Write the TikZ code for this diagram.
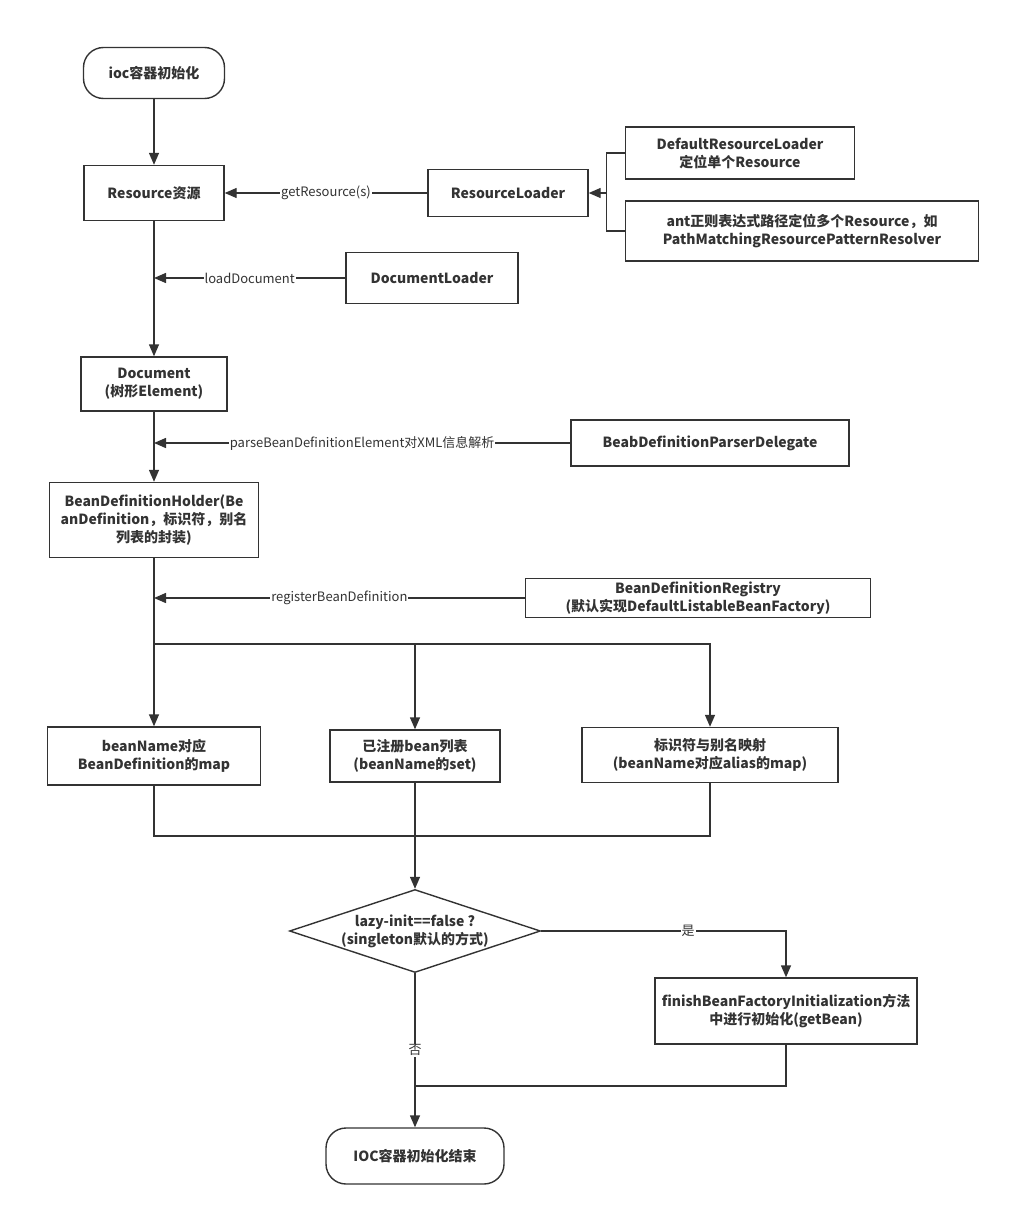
\documentclass[tikz,border=0pt]{standalone}
\usepackage{fontspec}
\newfontfamily\cjk{Noto Sans CJK SC}
\usetikzlibrary{shapes.geometric, arrows.meta, calc}

\begin{document}
\begin{tikzpicture}[x=1pt, y=1pt, >={Triangle[length=12pt, width=10pt]},
		color=black!80, line width=1.4pt,
		box/.style={draw, align=center, inner sep=2pt,
				font=\cjk\bfseries\fontsize{14}{18}\selectfont},
		term/.style={box, rounded corners=20pt},
		dec/.style={box, diamond, aspect=3, inner sep=0pt},
		lbl/.style={fill=white, inner sep=1pt, font=\cjk\fontsize{13}{15}\selectfont}]

		\useasboundingbox (0,0) rectangle (1011,-1215);

		% Main column
		\node[term, minimum width=141pt, minimum height=51pt] (Start) at (154,-73) {ioc容器初始化};
		\node[box, minimum width=140pt, minimum height=55pt] (Resource) at (154,-193) {Resource资源};
		\node[box, minimum width=146pt, minimum height=54pt] (Document) at (154,-384) {Document\\(树形Element)};
		\node[box, minimum width=209pt, minimum height=75pt] (Holder) at (154,-520) {BeanDefinitionHolder(Be\\anDefinition，标识符，别名\\列表的封装)};

		% Helpers on the right
		\node[box, minimum width=160pt, minimum height=47pt] (RLoader) at (508,-193) {ResourceLoader};
		\node[box, minimum width=229pt, minimum height=52pt] (DefaultRL) at (740,-153) {DefaultResourceLoader\\定位单个Resource};
		\node[box, minimum width=353pt, minimum height=60pt] (PatternRL) at (802,-231) {ant正则表达式路径定位多个Resource，如\\PathMatchingResourcePatternResolver};
		\node[box, minimum width=172pt, minimum height=51pt] (DocLoader) at (432,-278) {DocumentLoader};
		\node[box, minimum width=278pt, minimum height=46pt] (Delegate) at (710,-443) {BeabDefinitionParserDelegate};
		\node[box, minimum width=345pt, minimum height=39pt] (Registry) at (698,-598) {BeanDefinitionRegistry\\(默认实现DefaultListableBeanFactory)};

		% Registry row
		\node[box, minimum width=213pt, minimum height=58pt] (NameMap) at (154,-756) {beanName对应\\BeanDefinition的map};
		\node[box, minimum width=170pt, minimum height=52pt] (NameSet) at (415,-756) {已注册bean列表\\(beanName的set)};
		\node[box, minimum width=256pt, minimum height=55pt] (AliasMap) at (710,-755) {标识符与别名映射\\(beanName对应alias的map)};

		% Decision and end
		\node[dec, minimum width=251pt, minimum height=83pt] (Lazy) at (415,-931) {lazy-init==false ?\\(singleton默认的方式)};
		\node[box, minimum width=262pt, minimum height=66pt] (Finish) at (786,-1011) {finishBeanFactoryInitialization方法\\中进行初始化(getBean)};
		\node[term, minimum width=178pt, minimum height=56pt] (End) at (415,-1156) {IOC容器初始化结束};

		\coordinate (RLjoint) at ($(RLoader.east)+(18,0)$);
		\coordinate (Split) at (154,-644);
		\coordinate (Join) at (415,-836);
		\coordinate (Merge) at (415,-1086);

		% --- Connections ---

		% Main flow
		\draw[->] (Start) -- (Resource);
		\draw[->] (Resource) -- (Document);
		\draw[->] (Document) -- (Holder);
		\draw (Holder) -- (Split);

		% Calls into the main flow
		\draw[->] (RLoader) -- node[lbl] {getResource(s)} (Resource);
		\draw[->] (DocLoader.west) -- node[lbl] {loadDocument} (DocLoader.west -| Resource.south);
		\draw[->] (Delegate.west) -- node[lbl] {parseBeanDefinitionElement对XML信息解析} (Delegate.west -| Holder.north);
		\draw[->] (Registry.west) -- node[lbl] {registerBeanDefinition} (Registry.west -| Holder.south);

		% ResourceLoader implementations
		\draw (DefaultRL.west) -| (RLjoint) |- (PatternRL.west);
		\draw[->] (RLjoint) -- (RLoader.east);

		% Split into the three maps
		\draw[->] (Split) -- (NameMap);
		\draw[->] (Split) -| (NameSet);
		\draw[->] (Split) -| (AliasMap);

		% Join into the decision
		\draw (NameMap) |- (Join);
		\draw (AliasMap) |- (Join);
		\draw[->] (NameSet) -- (Lazy);

		% Decision
		\draw[->] (Lazy.east) -| node[lbl, pos=0.3] {是} (Finish.north);
		\draw[->] (Lazy) -- node[lbl] {否} (End);
		\draw (Finish) |- (Merge);

	\end{tikzpicture}
\end{document}
